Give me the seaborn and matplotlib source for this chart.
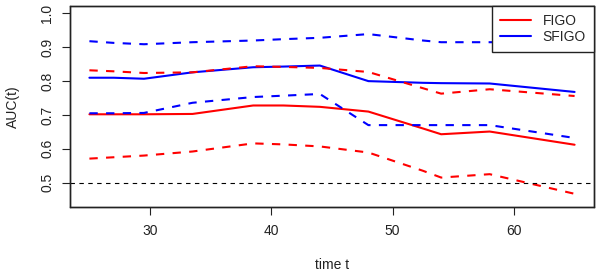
import numpy as np
import pandas as pd
import matplotlib
matplotlib.use("Agg")
import matplotlib.pyplot as plt
from matplotlib.patches import Rectangle
import seaborn as sns

# time points where the AUC curves were evaluated
time_t = [25, 27, 29.5, 33.5, 38.5, 41, 44, 48, 52.5, 54, 58, 65]

# FIGO estimate and pointwise band
figo = [0.702, 0.702, 0.702, 0.703, 0.728, 0.728, 0.724, 0.710, 0.660, 0.643, 0.651, 0.612]
figo_lo = [0.571, 0.575, 0.580, 0.592, 0.616, 0.613, 0.607, 0.589, 0.535, 0.515, 0.525, 0.467]
figo_hi = [0.832, 0.829, 0.824, 0.826, 0.844, 0.842, 0.839, 0.827, 0.779, 0.763, 0.776, 0.756]

# SFIGO estimate and pointwise band
sfigo = [0.810, 0.810, 0.807, 0.826, 0.841, 0.843, 0.846, 0.800, 0.795, 0.794, 0.793, 0.768]
sfigo_lo = [0.705, 0.705, 0.706, 0.736, 0.753, 0.757, 0.762, 0.670, 0.670, 0.670, 0.670, 0.632]
sfigo_hi = [0.918, 0.913, 0.909, 0.915, 0.920, 0.924, 0.928, 0.939, 0.920, 0.915, 0.915, 0.915]

df = pd.DataFrame({"t": time_t, "FIGO": figo, "FIGO_lo": figo_lo, "FIGO_hi": figo_hi,
                   "SFIGO": sfigo, "SFIGO_lo": sfigo_lo, "SFIGO_hi": sfigo_hi})

sns.set_theme(style="ticks")
plt.rcParams["font.family"] = ["Liberation Sans", "DejaVu Sans"]

fig = plt.figure(figsize=(6, 2.78), dpi=100)
ax = fig.add_axes([70 / 600, 71 / 278, 524 / 600, 201 / 278])

lw = 1.5
dash = (0, (4, 4))
sns.lineplot(data=df, x="t", y="FIGO", color="red", lw=lw, ax=ax, label="FIGO")
sns.lineplot(data=df, x="t", y="SFIGO", color="blue", lw=lw, ax=ax, label="SFIGO")
sns.lineplot(data=df, x="t", y="FIGO_lo", color="red", lw=lw, linestyle=dash, ax=ax)
sns.lineplot(data=df, x="t", y="FIGO_hi", color="red", lw=lw, linestyle=dash, ax=ax)
sns.lineplot(data=df, x="t", y="SFIGO_lo", color="blue", lw=lw, linestyle=dash, ax=ax)
sns.lineplot(data=df, x="t", y="SFIGO_hi", color="blue", lw=lw, linestyle=dash, ax=ax)
ax.axhline(0.5, color="black", lw=0.8, linestyle=(0, (4, 4)))

ax.set_xlim(23.4, 66.6)
ax.set_ylim(0.428, 1.022)
ax.set_xticks([30, 40, 50, 60])
ax.set_yticks([0.5, 0.6, 0.7, 0.8, 0.9, 1.0])
ax.set_yticklabels(["0.5", "0.6", "0.7", "0.8", "0.9", "1.0"], rotation=90, va="center")
ax.tick_params(axis="both", labelsize=10, length=5.5, width=0.8, color="#222222",
               labelcolor="#222222")
ax.tick_params(axis="x", pad=7)
ax.tick_params(axis="y", pad=6)
for side in ["top", "right", "bottom", "left"]:
    ax.spines[side].set_visible(True)
    ax.spines[side].set_color("#222222")
    ax.spines[side].set_linewidth(1.0)
    ax.spines[side].set_zorder(5)
# R style box round the plot region
ax.add_patch(Rectangle((0, 0), 1, 1, transform=ax.transAxes, fill=False,
                       edgecolor="#222222", lw=1.0, clip_on=False, zorder=6))

ax.set_xlabel("time t", fontsize=10, color="#222222")
ax.set_ylabel("AUC(t)", fontsize=10, color="#222222")
ax.xaxis.set_label_coords(0.5, -51 / 201)
ax.yaxis.set_label_coords(-50 / 524, 0.5)

leg = ax.legend(loc="upper right", borderaxespad=0, fancybox=False, framealpha=1,
                edgecolor="#222222", fontsize=10, handlelength=2.2, handletextpad=0.85,
                labelspacing=0.1, borderpad=0.6)
leg.get_frame().set_linewidth(1.0)
leg.set_zorder(10)

fig.savefig("out.png", dpi=100)
